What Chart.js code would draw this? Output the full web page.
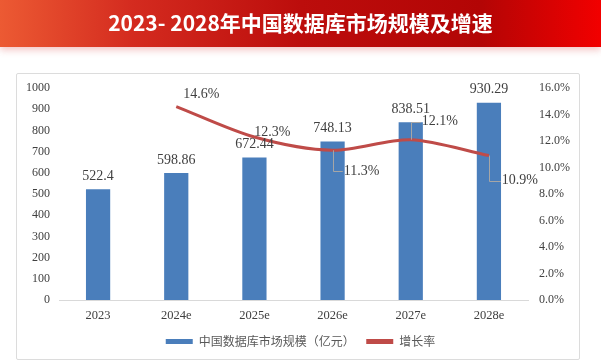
<!DOCTYPE html>
<html>
<head>
<meta charset="utf-8">
<script src="https://cdn.jsdelivr.net/npm/chart.js@4.4.1/dist/chart.umd.min.js"></script>
<style>
  body { margin: 0; background: #fff; width: 601px; height: 361px; overflow: hidden; position: relative; font-family: "Noto Sans CJK SC", sans-serif; }
  .banner { position: absolute; left: 0; top: 0; width: 601px; height: 47px; z-index: 2;
    background: linear-gradient(90deg, #ec5a33 0%, #d42b1f 22%, #bc0d0c 50%, #b30505 80%, #f20000 100%);
    box-shadow: 0 3px 7px rgba(215, 60, 60, .3);
    color: #fff; font-weight: bold; font-size: 21px; text-align: center; line-height: 45px; }
  .frame { position: absolute; left: 16px; top: 73px; width: 562px; height: 285px; border: 1px solid #dcdcdc; border-radius: 2px; }
  #chart { position: absolute; left: 0; top: 0; }
</style>
</head>
<body>
<div class="banner">2023- 2028年中国数据库市场规模及增速</div>
<div class="frame"></div>
<canvas id="chart" width="601" height="361"></canvas>
<script>
const years = ['2023', '2024e', '2025e', '2026e', '2027e', '2028e'];
const marketSize = [522.4, 598.86, 672.44, 748.13, 838.51, 930.29];
const growthRate = [null, 14.6, 12.3, 11.3, 12.1, 10.9];

// where each % label sits relative to its point: [dx, dy, leader line?]
const rateLabelPos = [null, [25, -12, false], [18, -5, false], [29, 21, true], [29, -18, true], [31, 25, true]];

const serif = '"Liberation Serif", "Times New Roman", serif';

const valueLabels = {
  id: 'valueLabels',
  afterDatasetsDraw(chart) {
    const ctx = chart.ctx;
    ctx.save();
    ctx.font = '14px ' + serif;
    ctx.fillStyle = '#404040';
    ctx.textAlign = 'center';
    ctx.textBaseline = 'middle';
    chart.getDatasetMeta(0).data.forEach((bar, i) => {
      ctx.fillText(String(marketSize[i]), bar.x, bar.y - 13);
    });
    chart.getDatasetMeta(1).data.forEach((pt, i) => {
      if (growthRate[i] == null) return;
      const [dx, dy, leader] = rateLabelPos[i];
      const text = growthRate[i].toFixed(1) + '%';
      const tx = pt.x + dx, ty = pt.y + dy;
      if (leader) {
        const left = tx - ctx.measureText(text).width / 2 - 1;
        ctx.strokeStyle = '#a6a6a6';
        ctx.lineWidth = 1;
        ctx.beginPath();
        ctx.moveTo(Math.round(pt.x) + .5, pt.y);
        ctx.lineTo(Math.round(pt.x) + .5, Math.round(ty) + .5);
        ctx.lineTo(left, Math.round(ty) + .5);
        ctx.stroke();
      }
      ctx.fillText(text, tx, ty);
    });
    ctx.restore();
  }
};

new Chart(document.getElementById('chart'), {
  type: 'bar',
  data: {
    labels: years,
    datasets: [{
      label: '中国数据库市场规模（亿元）',
      data: marketSize,
      backgroundColor: '#4a7ebb',
      barPercentage: 0.31,
      categoryPercentage: 1,
      yAxisID: 'y',
      order: 2
    }, {
      type: 'line',
      label: '增长率',
      data: growthRate,
      borderColor: '#bf4b48',
      backgroundColor: '#bf4b48',
      borderWidth: 3,
      pointRadius: 0,
      tension: 0.3,
      yAxisID: 'y1',
      order: 1
    }]
  },
  options: {
    responsive: false,
    devicePixelRatio: 1,
    animation: false,
    layout: { padding: { top: 88, left: 0, right: 0, bottom: 3.5 } },
    plugins: {
      tooltip: { enabled: false },
      legend: {
        position: 'bottom',
        labels: {
          boxWidth: 27,
          boxHeight: 5,
          padding: 11.5,
          color: '#595959',
          font: { family: '"Noto Sans CJK SC", sans-serif', size: 12 },
          sort: (a, b) => a.datasetIndex - b.datasetIndex,
          generateLabels(chart) {
            const items = Chart.defaults.plugins.legend.labels.generateLabels(chart);
            items.forEach(it => { it.lineWidth = 0; });
            return items;
          }
        }
      }
    },
    scales: {
      x: {
        grid: { drawOnChartArea: false, drawTicks: false },
        border: { display: true, color: '#d9d9d9', width: 1 },
        ticks: { color: '#404040', padding: 8, font: { family: serif, size: 12.5 } },
        afterFit(scale) { scale.height = 24; }
      },
      y: {
        position: 'left',
        min: 0, max: 1000,
        grid: { display: false, drawTicks: false },
        border: { display: false },
        ticks: { stepSize: 100, color: '#404040', padding: 9, font: { family: serif, size: 12 },
          callback: v => String(v) },
        afterFit(scale) { scale.width = 59; }
      },
      y1: {
        position: 'right',
        min: 0, max: 16,
        grid: { display: false, drawTicks: false },
        border: { display: false },
        ticks: { stepSize: 2, color: '#404040', padding: 11, font: { family: serif, size: 12 },
          callback: v => v.toFixed(1) + '%' },
        afterFit(scale) { scale.width = 73; }
      }
    }
  },
  plugins: [valueLabels]
});
</script>
</body>
</html>
